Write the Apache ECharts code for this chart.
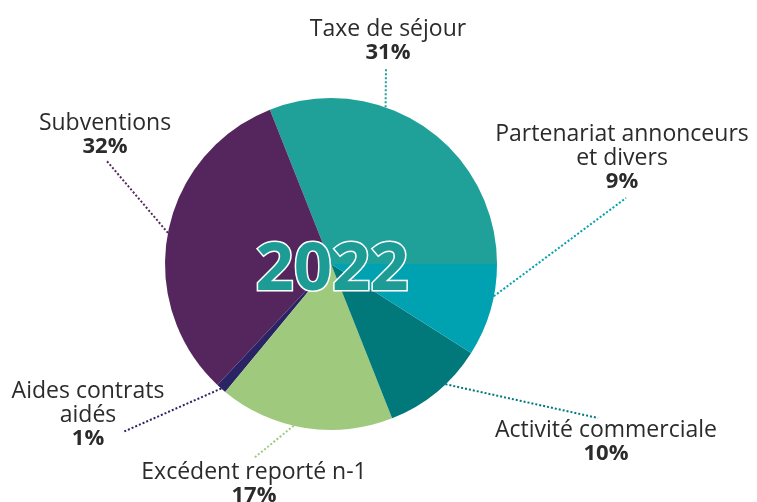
<!DOCTYPE html>
<html>
<head>
<meta charset="utf-8">
<script src="https://cdn.jsdelivr.net/npm/echarts@6/dist/echarts.min.js"></script>
<style>
  html, body { margin: 0; padding: 0; background: #fff; }
  #chart { width: 757px; height: 502px; }
</style>
</head>
<body>
<div id="chart"></div>
<script>
// parts of the 2022 budget, in %, counter-clockwise from 3 o'clock
var categories = [
  "Taxe de séjour",
  "Subventions",
  "Aides contrats\naidés",
  "Excédent reporté n-1",
  "Activité commerciale",
  "Partenariat annonceurs\net divers"
];
var values = [31, 32, 1, 17, 10, 9];
var colors = ["#1fa199", "#55265e", "#2a2464", "#9fca7e", "#01797b", "#00a1b1"];
var yearLabel = "2022";

// layout only: label block centres, where the dotted line meets the label,
// and a small shift of the line's start along the rim (degrees)
var center = [331, 264];
var radius = 166;
var labelPos = [[388, 41], [105, 135], [88, 415], [254, 484], [606, 442], [622, 158]];
var lineEnd = [[-2, 27], [1, 25], [35, 17], [0, -26], [-8, -24], [4, 40]];
var rimShift = [15, 0, 0, -4, 4, 5];

// mid angle of each slice (counter-clockwise from 3 o'clock)
var total = values.reduce(function (a, b) { return a + b; }, 0);
var midAngles = [];
var acc = 0;
values.forEach(function (v) {
  midAngles.push((acc + v / 2) / total * 360);
  acc += v;
});

var myChart = echarts.init(document.getElementById("chart"));

myChart.setOption({
  animation: false,
  title: {
    text: yearLabel,
    left: 327,
    top: 266,
    textAlign: "center",
    textVerticalAlign: "middle",
    textStyle: {
      fontFamily: "Open Sans",
      fontWeight: "bold",
      fontSize: 67,
      color: "#1d9c95",
      textBorderColor: "#ffffff",
      textBorderWidth: 3,
      textShadowColor: "#0b3b3a",
      textShadowOffsetX: 2,
      textShadowOffsetY: 2,
      textShadowBlur: 0
    }
  },
  series: [
    {
      type: "pie",
      center: center,
      radius: radius,
      startAngle: 0,
      clockwise: false,
      label: {
        show: true,
        overflow: "none",
        formatter: function (p) {
          return "{n|" + p.name + "}\n{p|" + p.value + "%}";
        },
        rich: {
          n: { fontFamily: "Open Sans", fontSize: 23, color: "#2b2b2b", lineHeight: 24, align: "center" },
          p: { fontFamily: "Open Sans", fontSize: 22, fontWeight: "bold", color: "#2b2b2b", lineHeight: 24, align: "center" }
        }
      },
      labelLine: {
        show: true,
        length: 10,
        length2: 0,
        lineStyle: { type: "dotted", width: 2 }
      },
      labelLayout: function (params) {
        var i = params.dataIndex;
        var pos = labelPos[i];
        var a = (midAngles[i] + rimShift[i]) * Math.PI / 180;
        var start = [center[0] + radius * Math.cos(a), center[1] - radius * Math.sin(a)];
        var end = [pos[0] + lineEnd[i][0], pos[1] + lineEnd[i][1]];
        var mid = [(start[0] + end[0]) / 2, (start[1] + end[1]) / 2];
        return {
          x: pos[0],
          y: pos[1],
          align: "center",
          verticalAlign: "middle",
          labelLinePoints: [start, mid, end]
        };
      },
      data: categories.map(function (name, i) {
        return {
          name: name,
          value: values[i],
          itemStyle: { color: colors[i] },
          labelLine: { lineStyle: { color: colors[i] } }
        };
      })
    }
  ]
});
</script>
</body>
</html>
